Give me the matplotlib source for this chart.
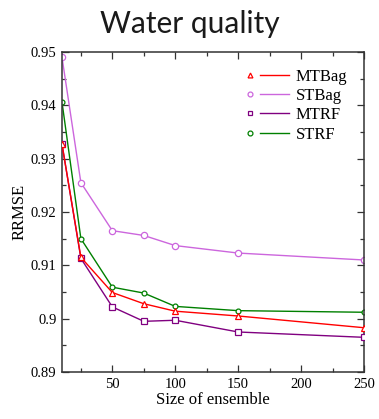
import matplotlib
matplotlib.use("Agg")
import matplotlib.pyplot as plt
from matplotlib.lines import Line2D
from matplotlib.legend_handler import HandlerBase
from matplotlib.ticker import MultipleLocator

# ensemble sizes and RRMSE per method
ensemble_size = [10, 25, 50, 75, 100, 150, 250]
mtbag = [0.9327, 0.9115, 0.9049, 0.9028, 0.9014, 0.9005, 0.8983]
stbag = [0.9490, 0.9255, 0.9165, 0.9156, 0.9137, 0.9123, 0.9110]
mtrf = [0.9327, 0.9113, 0.9022, 0.8995, 0.8997, 0.8975, 0.8965]
strf = [0.9406, 0.9150, 0.9059, 0.9048, 0.9023, 0.9015, 0.9012]

series = [
    ("MTBag", mtbag, "#ff0000", "^", 4.5, 4),
    ("STBag", stbag, "#cc66dd", "o", 4.5, 2),
    ("MTRF", mtrf, "#800080", "s", 5, 3),
    ("STRF", strf, "#008000", "o", 3.5, 2),
]

serif = ["Liberation Serif", "DejaVu Serif"]


class MarkerThenLine(HandlerBase):
    """gnuplot-like key: marker sample on the left, line sample on the right"""

    def create_artists(self, legend, orig_handle, xdescent, ydescent,
                       width, height, fontsize, trans):
        y = height / 2 - ydescent
        x0 = -xdescent
        mark = Line2D([x0 + 0.08 * width], [y], ls="none",
                      marker=orig_handle.get_marker(), ms=3.5,
                      mfc="white", mec=orig_handle.get_color(), mew=0.9)
        line = Line2D([x0 + 0.31 * width, x0 + width], [y, y],
                      color=orig_handle.get_color(), lw=1.0)
        mark.set_transform(trans)
        line.set_transform(trans)
        return [line, mark]


fig = plt.figure(figsize=(3.79, 4.19), dpi=100)
ax = fig.add_axes([0.1636, 0.1122, 0.7968, 0.7637])

handles = []
for name, vals, col, mk, ms, z in series:
    h, = ax.plot(ensemble_size, vals, color=col, lw=1.0, marker=mk, ms=ms,
                 mfc="white", mec=col, mew=0.9, zorder=z)
    handles.append(h)

ax.set_xlim(10, 250)
ax.set_ylim(0.89, 0.95)
ax.xaxis.set_minor_locator(MultipleLocator(25))
ax.yaxis.set_minor_locator(MultipleLocator(0.005))
ax.set_xticks([50, 100, 150, 200, 250])
ax.set_yticks([0.89, 0.9, 0.91, 0.92, 0.93, 0.94, 0.95])
ax.set_yticklabels(["0.89", "0.9", "0.91", "0.92", "0.93", "0.94", "0.95"])

ax.tick_params(which="both", direction="in", top=True, right=True,
               colors="#333333", labelcolor="black", width=0.9)
ax.tick_params(which="major", length=5, labelsize=10.5, pad=4)
ax.tick_params(which="minor", length=3)
for lab in ax.get_xticklabels() + ax.get_yticklabels():
    lab.set_family(serif)
for sp in ax.spines.values():
    sp.set_color("#333333")
    sp.set_linewidth(1.1)

ax.set_xlabel("Size of ensemble", family=serif, fontsize=12, labelpad=1)
ax.set_ylabel("RRMSE", family=serif, fontsize=12, labelpad=2)

fig.suptitle("Water quality", family=["Lato", "DejaVu Sans"],
             color="#1a1a1a", fontsize=21.5, y=0.975)

ax.legend(handles, [s[0] for s in series],
          handler_map={Line2D: MarkerThenLine()},
          loc="upper right", bbox_to_anchor=(0.99, 0.99), frameon=False,
          prop={"family": serif, "size": 12}, handlelength=2.5,
          handletextpad=0.45, labelspacing=0.2, borderaxespad=0.4)

fig.savefig("out.png", dpi=100)
